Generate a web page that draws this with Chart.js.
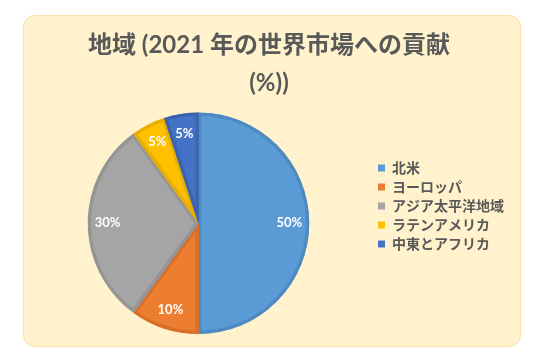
<!DOCTYPE html>
<html>
<head>
<meta charset="utf-8">
<script src="https://cdn.jsdelivr.net/npm/chart.js@4"></script>
<style>
  html, body { margin: 0; padding: 0; background: #fff; }
  body { width: 534px; height: 360px; position: relative; overflow: hidden; }
  .card {
    position: absolute; left: 23px; top: 15px; width: 498px; height: 332px;
    background: #FFF2CC; border: 1px solid #F7E3A8; border-radius: 12px; box-sizing: border-box;
  }
  .card canvas { position: absolute; left: 0; top: 0; }
</style>
</head>
<body>
<div class="card"><canvas id="chart" width="496" height="330"></canvas></div>
<script>
const regions = ['北米', 'ヨーロッパ', 'アジア太平洋地域', 'ラテンアメリカ', '中東とアフリカ'];
const shares = [50, 10, 30, 5, 5];
const fills = ['#5B9BD5', '#ED7D31', '#A5A5A5', '#FFC000', '#4472C4'];
const edges = ['#4E8AC2', '#D96E26', '#959595', '#E8AE00', '#3A64B0'];

const FONT = 'Lato, "Noto Sans CJK JP", sans-serif';

// white percentage labels inside each slice
const sliceLabels = {
  id: 'sliceLabels',
  afterDatasetsDraw(chart) {
    const ctx = chart.ctx;
    const meta = chart.getDatasetMeta(0);
    ctx.save();
    ctx.fillStyle = '#fff';
    ctx.font = 'bold 13px ' + FONT;
    ctx.textAlign = 'center';
    ctx.textBaseline = 'middle';
    meta.data.forEach((arc, i) => {
      const p = arc.getProps(['x', 'y', 'startAngle', 'endAngle', 'outerRadius']);
      const mid = (p.startAngle + p.endAngle) / 2;
      const r = p.outerRadius * 0.82;
      ctx.fillText(shares[i] + '%', p.x + Math.cos(mid) * r, p.y + Math.sin(mid) * r);
    });
    ctx.restore();
  }
};

new Chart(document.getElementById('chart'), {
  type: 'pie',
  data: {
    labels: regions,
    datasets: [{
      data: shares,
      backgroundColor: fills,
      borderColor: edges,
      borderWidth: 3,
      borderAlign: 'inner'
    }]
  },
  options: {
    responsive: false,
    animation: false,
    layout: { padding: { left: 0, right: 6, top: 0, bottom: 12 } },
    plugins: {
      title: {
        display: true,
        text: ['地域 (2021 年の世界市場への貢献', '(%))'],
        color: '#595959',
        font: { family: FONT, size: 24, weight: 'bold', lineHeight: 1.55 },
        padding: { top: 11, bottom: 11 }
      },
      legend: {
        position: 'right',
        // blank title only pushes the entries down to sit beside the pie
        title: { display: true, text: ' ', font: { size: 12, lineHeight: 1 }, padding: 25 },
        labels: {
          color: '#595959',
          font: { family: FONT, size: 14, weight: 'bold' },
          boxWidth: 7,
          boxHeight: 7,
          padding: 5,
          generateLabels(chart) {
            return Chart.overrides.pie.plugins.legend.labels.generateLabels(chart).map(l => {
              l.strokeStyle = l.fillStyle;
              l.lineWidth = 0;
              return l;
            });
          }
        }
      },
      tooltip: { enabled: false }
    }
  },
  plugins: [sliceLabels]
});
</script>
</body>
</html>
